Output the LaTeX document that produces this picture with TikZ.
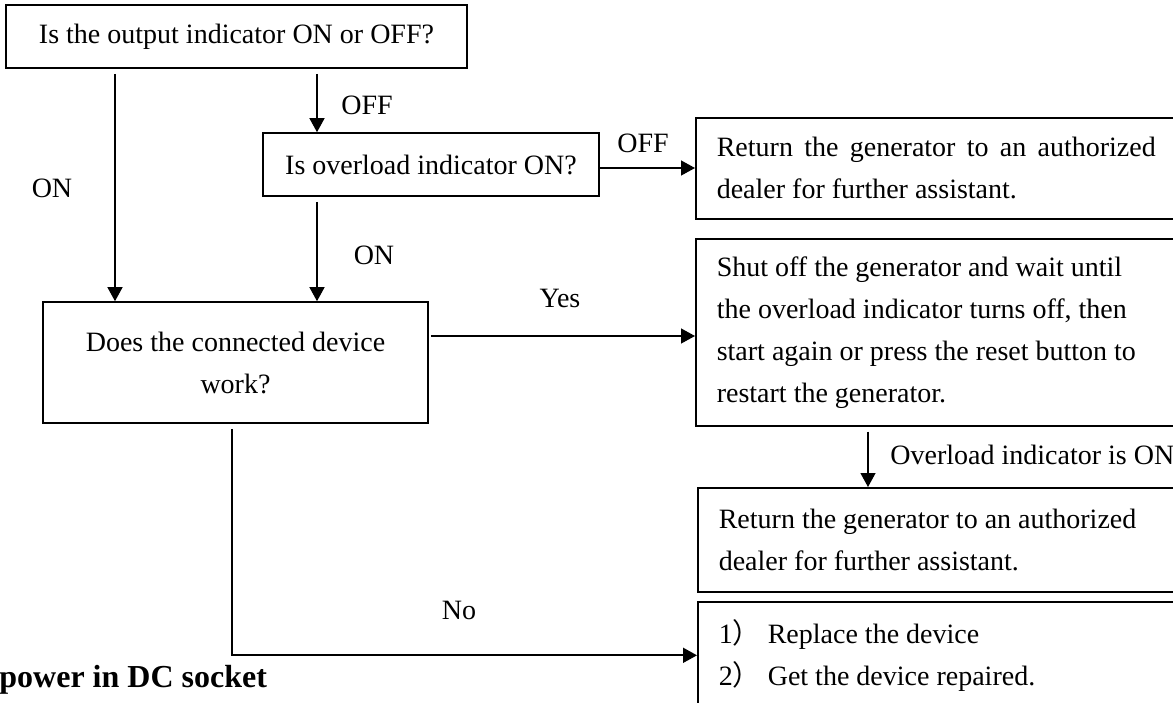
\documentclass[tikz,border=0pt]{standalone}
\usepackage{fontspec}
\setmainfont{Liberation Serif}
\newfontfamily\cjk{Noto Sans CJK SC}
\usetikzlibrary{arrows.meta}

\begin{document}
\begin{tikzpicture}[
    x=0.5pt, y=-0.5pt,
    every node/.style={font=\fontsize{14}{21}\selectfont},
    box/.style ={draw, line width=0.8pt, align=flush center, inner sep=0pt},
    note/.style={draw, line width=0.8pt, anchor=north west, align=flush left,
                 text width=219.5pt, inner xsep=10.5pt, inner ysep=0pt},
    lbl/.style ={inner sep=0pt},
    flow/.style={-{Triangle[length=7pt,width=7.5pt]}, line width=0.65pt},
    gap/.style ={shorten <=2.5pt},
]
\clip (0,0) rectangle (1173,702);
% columns of the vertical connectors
\coordinate (onx) at (115,0);
\coordinate (offx) at (317,0);
\coordinate (nox) at (232,0);
\coordinate (ovx) at (868,0);
\coordinate (yesy) at (0,336);

\node[box, minimum width=230.5pt, minimum height=31.5pt] (top) at (236.5,36.5)
   {Is the output indicator ON or OFF?};
\node[box, minimum width=168pt, minimum height=31.5pt] (over) at (431,164.5)
   {Is overload indicator ON?};
\node[box, minimum width=192.5pt, minimum height=60.5pt] (does) at (235.5,362.5)
   {Does the connected device\\ work?};
\node[note, align=justify, minimum height=50.5pt] (ret1) at (695,117)
   {Return the generator to an authorized dealer for further assistant.};
\node[note, minimum height=93.5pt] (shut) at (695,238)
   {Shut off the generator and wait until\\
    the overload indicator turns off, then\\
    start again or press the reset button to\\
    restart the generator.};
\node[note, minimum height=52pt] (ret2) at (697,487)
   {Return the generator to an authorized\\
    dealer for further assistant.};
\node[note, minimum height=53.5pt] (fix) at (697,601)
   {1{\cjk ）}\hspace{3.5pt}Replace the device\\
    2{\cjk ）}\hspace{3.5pt}Get the device repaired.};

\node[lbl] (lon)   at (52,188)  {ON};
\node[lbl] (loff)  at (367,105) {OFF};
\node[lbl] (loff2) at (643,143) {OFF};
\node[lbl] (lon2)  at (374,255) {ON};
\node[lbl] (lyes)  at (560,298) {Yes};
\node[lbl] (lno)   at (459,610) {No};
\node[lbl, anchor=west] (lovl) at (890,455) {Overload indicator is ON};
\node[lbl, anchor=west, font=\fontsize{16}{19}\selectfont\bfseries] (title)
   at (-1,680) {power in DC socket};

\draw[flow, gap] (top.south -| onx)  -- (does.north -| onx);
\draw[flow, gap] (top.south -| offx) -- (over.north -| offx);
\draw[flow, gap] (over.south -| offx) -- (does.north -| offx);
\draw[flow] ([yshift=-1.75pt]over.east) -- ([yshift=-1.75pt]over.east -| ret1.west);
\draw[flow, shorten <=1pt] (does.east |- yesy) -- (shut.west |- yesy);
\draw[flow, gap] (shut.south -| ovx) -- (ret2.north -| ovx);
\draw[flow, gap, line width=0.9pt] (does.south -| nox) |- (fix.west);
\end{tikzpicture}
\end{document}
